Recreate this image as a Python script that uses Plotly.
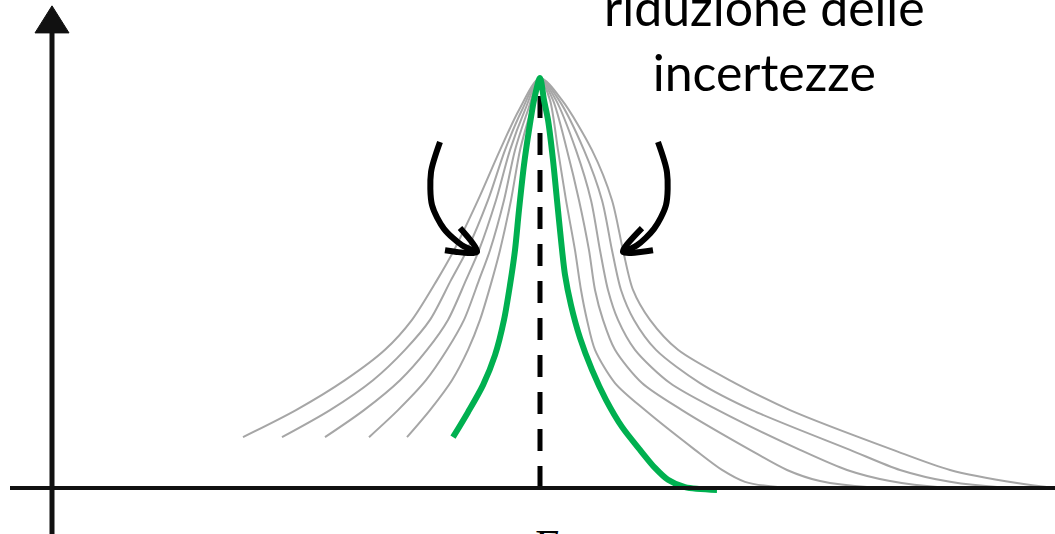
import plotly.graph_objects as go

# Units: E relative to the peak energy E0 (E0 = 0), p normalised to the peak height (p = 1).

# green (reduced uncertainty) distribution
green_E = [-0.87, -0.72, -0.57, -0.45, -0.36, -0.30, -0.25, -0.21, -0.16, -0.11, -0.06, 0.00,
           0.04, 0.08, 0.13, 0.17, 0.21, 0.25, 0.31, 0.40, 0.52, 0.66, 0.82, 1.00, 1.15, 1.28,
           1.45, 1.77]
green_p = [0.124, 0.185, 0.251, 0.324, 0.410, 0.495, 0.580, 0.678, 0.788, 0.873, 0.946, 1.000,
           0.946, 0.898, 0.800, 0.702, 0.605, 0.520, 0.446, 0.366, 0.288, 0.215, 0.149, 0.093,
           0.049, 0.020, 0.002, -0.005]

# grey distributions, widest (G1) to narrowest (G5) - left flank
left_p = [0.124, 0.190, 0.263, 0.337, 0.410, 0.507, 0.580, 0.702, 0.824, 0.922, 1.000]
left_E = {
    'G1': [-2.97, -2.44, -1.95, -1.55, -1.28, -1.03, -0.86, -0.62, -0.40, -0.21, 0.00],
    'G2': [-2.58, -2.10, -1.67, -1.35, -1.10, -0.89, -0.73, -0.52, -0.35, -0.18, 0.00],
    'G3': [-2.15, -1.76, -1.40, -1.13, -0.92, -0.74, -0.61, -0.44, -0.30, -0.15, 0.00],
    'G4': [-1.71, -1.42, -1.14, -0.93, -0.76, -0.61, -0.50, -0.36, -0.25, -0.12, 0.00],
    'G5': [-1.33, -1.10, -0.88, -0.72, -0.60, -0.48, -0.40, -0.29, -0.20, -0.09, 0.00],
}
# right flank (long tail)
right_p_common = [0.946, 0.824, 0.702, 0.580, 0.483, 0.410, 0.337, 0.256, 0.190, 0.093, 0.044]
right_E = {
    'G1': [0.22, 0.52, 0.72, 0.83, 0.93, 1.10, 1.38, 1.95, 2.50, 3.53, 4.10, 4.77, 5.15],
    'G2': [0.19, 0.44, 0.62, 0.72, 0.81, 0.94, 1.16, 1.60, 2.12, 3.10, 3.60, 4.10, 4.60, 5.15],
    'G3': [0.16, 0.36, 0.51, 0.60, 0.68, 0.78, 0.95, 1.30, 1.78, 2.60, 3.07, 3.50, 4.00, 5.15],
    'G4': [0.13, 0.27, 0.39, 0.49, 0.55, 0.63, 0.75, 1.02, 1.42, 2.10, 2.47, 2.80, 3.30, 5.15],
    'G5': [0.10, 0.18, 0.26, 0.35, 0.41, 0.47, 0.55, 0.75, 1.05, 1.55, 1.82, 2.05, 2.40, 5.15],
}
right_tail_p = {
    'G1': [0.012, 0.000],
    'G2': [0.015, 0.002, 0.000],
    'G3': [0.017, 0.002, 0.000],
    'G4': [0.017, 0.002, 0.000],
    'G5': [0.015, 0.002, 0.000],
}

# diagram furniture
axis_E0 = -4.88          # position of the vertical axis
axis_x_start = -5.30
peak_E = 0.0
dash_top = 0.963
left_arrow_E = [-1.00, -1.09, -1.08, -0.96, -0.78, -0.63]
left_arrow_p = [0.844, 0.770, 0.690, 0.632, 0.592, 0.576]
left_head_E = [-0.95, -0.63, -0.80]
left_head_p = [0.580, 0.576, 0.634]
right_arrow_E = [1.18, 1.27, 1.26, 1.14, 0.97, 0.83]
right_arrow_p = [0.844, 0.770, 0.690, 0.632, 0.592, 0.576]
right_head_E = [1.13, 0.83, 1.02]
right_head_p = [0.580, 0.576, 0.634]

x_range = [-5.40, 5.15]
y_range = [-0.11220, 1.19024]

GREY = '#a6a6a6'
GREEN = '#00b050'

fig = go.Figure()

for g in ['G1', 'G2', 'G3', 'G4', 'G5']:
    xs = left_E[g] + right_E[g]
    ys = left_p + right_p_common + right_tail_p[g]
    fig.add_trace(go.Scatter(
        x=xs, y=ys, mode='lines',
        line=dict(color=GREY, width=2, shape='spline', smoothing=0.8),
        hoverinfo='skip',
    ))

# dashed line at the peak energy
fig.add_trace(go.Scatter(
    x=[peak_E, peak_E], y=[0, dash_top], mode='lines',
    line=dict(color='black', width=5, dash='22px,15px'),
    hoverinfo='skip',
))

fig.add_trace(go.Scatter(
    x=green_E, y=green_p, mode='lines',
    line=dict(color=GREEN, width=6, shape='spline', smoothing=0.8),
    hoverinfo='skip',
))

# axes
fig.add_trace(go.Scatter(
    x=[axis_x_start, x_range[1]], y=[0, 0], mode='lines',
    line=dict(color='#111111', width=4), hoverinfo='skip',
))
fig.add_trace(go.Scatter(
    x=[axis_E0, axis_E0], y=[y_range[0], 1.12], mode='lines',
    line=dict(color='#111111', width=5), hoverinfo='skip',
))
fig.add_trace(go.Scatter(
    x=[axis_E0, axis_E0 - 0.17, axis_E0 + 0.17, axis_E0],
    y=[1.176, 1.110, 1.110, 1.176], mode='lines', fill='toself',
    fillcolor='#111111', line=dict(color='#111111', width=1), hoverinfo='skip',
))

# curved arrows
for ax, ay in [(left_arrow_E, left_arrow_p), (left_head_E, left_head_p),
               (right_arrow_E, right_arrow_p), (right_head_E, right_head_p)]:
    fig.add_trace(go.Scatter(
        x=ax, y=ay, mode='lines',
        line=dict(color='black', width=6, shape='spline', smoothing=0.8),
        hoverinfo='skip',
    ))

fig.add_annotation(
    x=2.24, y=1.095, xref='x', yref='y',
    text='riduzione delle<br>incertezze', showarrow=False,
    font=dict(family='Lato', size=50, color='black'),
    xanchor='center', yanchor='middle',
)
fig.add_annotation(
    x=0.05, y=-0.0756, xref='x', yref='y',
    text='<i>E</i>', showarrow=False,
    font=dict(family='Liberation Serif', size=44, color='black'),
    xanchor='center', yanchor='top',
)

fig.update_layout(
    width=1055, height=534,
    margin=dict(l=0, r=0, t=0, b=0),
    paper_bgcolor='white', plot_bgcolor='white',
    showlegend=False,
    xaxis=dict(range=x_range, visible=False, fixedrange=True),
    yaxis=dict(range=y_range, visible=False, fixedrange=True),
)

fig.write_html('out.html', config={'displayModeBar': False},
               post_script="document.body.style.margin='0';")
